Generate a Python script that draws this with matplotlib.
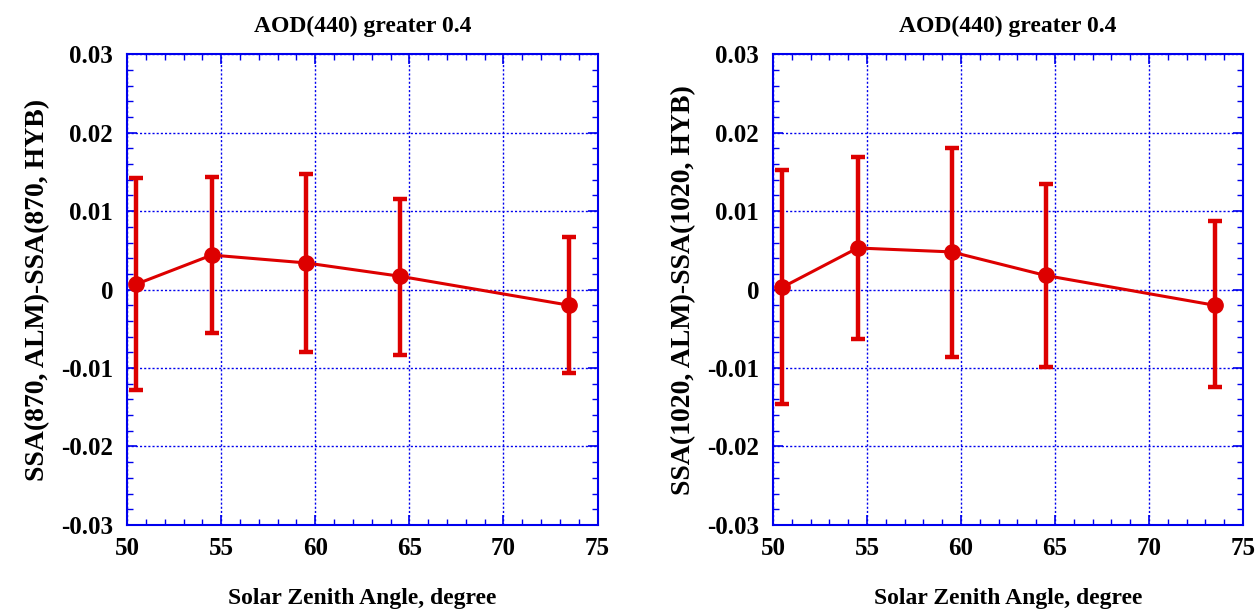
import matplotlib
matplotlib.use("Agg")
import matplotlib.pyplot as plt
from matplotlib.ticker import MultipleLocator, FuncFormatter

sza = [50.5, 54.5, 59.5, 64.5, 73.5]

ssa870 = [0.0007, 0.0044, 0.0034, 0.0017, -0.0020]
err870_up = [0.0142, 0.0143, 0.0147, 0.0115, 0.0067]
err870_lo = [-0.0128, -0.0055, -0.0080, -0.0083, -0.0106]

ssa1020 = [0.0003, 0.0053, 0.0048, 0.0018, -0.0020]
err1020_up = [0.0152, 0.0169, 0.0180, 0.0134, 0.0087]
err1020_lo = [-0.0146, -0.0063, -0.0086, -0.0099, -0.0124]

title = "AOD(440) greater 0.4"
xlabel = "Solar Zenith Angle, degree"
ylabels = ["SSA(870, ALM)-SSA(870, HYB)", "SSA(1020, ALM)-SSA(1020, HYB)"]

plt.rcParams['font.family'] = ['Liberation Serif', 'DejaVu Serif']
plt.rcParams['font.weight'] = 'bold'

fig = plt.figure(figsize=(12.58, 6.09), dpi=100)
ax1 = fig.add_axes([0.101, 0.138, 0.374, 0.773])
ax2 = fig.add_axes([0.6145, 0.138, 0.3735, 0.773])

red = '#dd0000'
blue = '#0000ee'

def fmt(v, pos):
    if abs(v) < 1e-9:
        return '0'
    return ('%.2f' % v)

for ax, y, up, lo, yl in [(ax1, ssa870, err870_up, err870_lo, ylabels[0]),
                          (ax2, ssa1020, err1020_up, err1020_lo, ylabels[1])]:
    yerr = [[yi - l for yi, l in zip(y, lo)], [u - yi for yi, u in zip(y, up)]]
    ax.errorbar(sza, y, yerr=yerr, color=red, lw=2.2, marker='o', ms=11,
                elinewidth=3.2, capsize=5, capthick=3.2, zorder=3)
    ax.set_xlim(50, 75)
    ax.set_ylim(-0.03, 0.03)
    ax.xaxis.set_major_locator(MultipleLocator(5))
    ax.xaxis.set_minor_locator(MultipleLocator(1))
    ax.yaxis.set_major_locator(MultipleLocator(0.01))
    ax.yaxis.set_minor_locator(MultipleLocator(0.002))
    ax.yaxis.set_major_formatter(FuncFormatter(fmt))
    ax.grid(True, which='major', color=blue, ls=(0, (1.5, 1.5)), lw=1.0)
    for s in ax.spines.values():
        s.set_color(blue)
        s.set_linewidth(1.5)
    ax.tick_params(which='both', direction='in', top=True, right=True, color=blue)
    ax.tick_params(which='major', length=7, width=1.2, labelsize=18)
    ax.tick_params(axis='x', which='major', pad=9)
    ax.tick_params(axis='y', which='major', pad=10)
    ax.tick_params(which='minor', length=4, width=1.0)
    for lab in ax.get_xticklabels() + ax.get_yticklabels():
        lab.set_fontweight('bold')
    ax.set_title(title, fontsize=17, fontweight='bold', pad=16)
    ax.set_xlabel(xlabel, fontsize=17, fontweight='bold', labelpad=20)
    ax.set_ylabel(yl, fontsize=20, fontweight='bold', labelpad=8)

fig.savefig('out.png', dpi=100)
